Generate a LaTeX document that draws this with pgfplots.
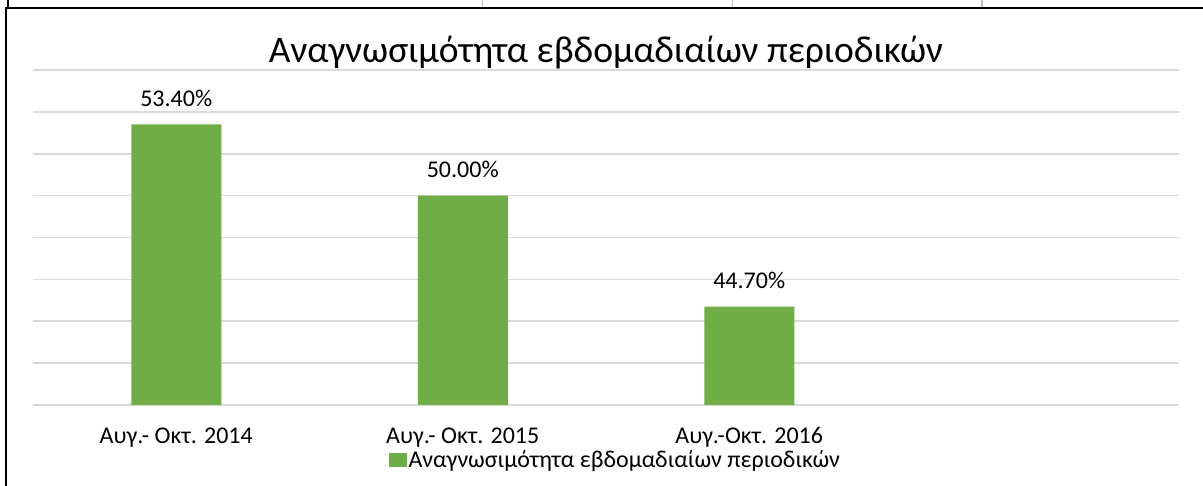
\documentclass[border=0pt]{standalone}
\usepackage{pgfplots}
\pgfplotsset{compat=1.18}
\usepackage{fontspec}
\setmainfont{Carlito}
\definecolor{bargreen}{HTML}{70AD47}
\definecolor{gridgray}{HTML}{D9D9D9}
\definecolor{cellgray}{HTML}{BFBFBF}
\begin{document}
\begin{tikzpicture}
\useasboundingbox (0pt,0pt) rectangle (1203pt,486pt);
\fill[white] (0pt,0pt) rectangle (1203pt,486pt);
\draw[line width=1.2pt] (8pt,486pt) -- (8pt,478pt);
\draw[cellgray, line width=1.2pt] (482.7pt,486pt) -- (482.7pt,478pt);
\draw[cellgray, line width=1.2pt] (732.7pt,486pt) -- (732.7pt,478pt);
\draw[cellgray, line width=1.2pt] (982pt,486pt) -- (982pt,478pt);
\draw[line width=2.3pt] (6.3pt,0pt) -- (6.3pt,477.7pt) -- (1203pt,477.7pt);
\begin{axis}[
  at={(33pt,81pt)}, anchor=south west, scale only axis,
  width=1146pt, height=335pt,
  ybar,
  ymin=40, ymax=56, ytick={40,42,...,56}, yticklabels={},
  ymajorgrids,
  major grid style={draw=gridgray, line width=1.6pt},
  xmin=-0.5, xmax=3.5, xtick={0,1,2},
  xticklabels={Αυγ.- Οκτ. 2014, Αυγ.- Οκτ. 2015, Αυγ.-Οκτ. 2016},
  axis line style={draw=none}, major tick length=0pt,
  xticklabel style={font=\fontsize{24}{28}\selectfont, anchor=base, yshift=-39pt},
  title={Αναγνωσιμότητα εβδομαδιαίων περιοδικών},
  title style={at={(0.5,1)}, anchor=base, yshift=1pt, font=\fontsize{37.5}{44}\selectfont},
  legend style={at={(0.5081,-0.164)}, anchor=center, draw=none, fill=none,
    font=\fontsize{24}{28}\selectfont, inner sep=0pt},
  legend image code/.code={\path (0pt,-7pt) rectangle (18pt,7pt);\fill[bargreen] (0pt,-7pt) rectangle (14pt,7pt);},
]
\addplot[ybar, bar width=90pt, fill=bargreen, draw=none,
  nodes near coords, point meta=explicit symbolic,
  nodes near coords style={font=\fontsize{24}{28}\selectfont, anchor=base, yshift=18pt}]
  coordinates {(0,53.4)[53.40\%] (1,50.0)[50.00\%] (2,44.7)[44.70\%]};
\addlegendentry{Αναγνωσιμότητα εβδομαδιαίων περιοδικών}
\end{axis}
\end{tikzpicture}
\end{document}
